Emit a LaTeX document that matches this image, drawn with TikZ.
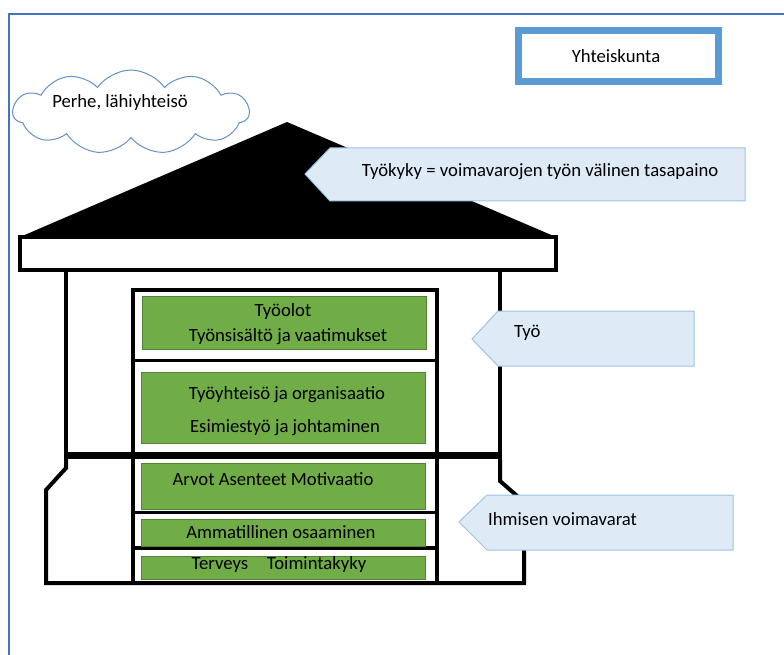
\documentclass[tikz,border=0pt]{standalone}
\usepackage{fontspec}
\setmainfont{Carlito}
\usetikzlibrary{shapes.symbols}
\definecolor{framblue}{RGB}{68,114,196}
\definecolor{boxblue}{RGB}{91,155,213}
\definecolor{cloudblue}{RGB}{100,145,200}
\definecolor{leafgreen}{RGB}{112,173,71}
\definecolor{leafedge}{RGB}{84,130,53}
\definecolor{tagfill}{RGB}{222,235,247}
\definecolor{tagedge}{RGB}{157,195,230}
\begin{document}
\begin{tikzpicture}[x=1pt,y=-1pt,
    wall/.style={line width=4pt,color=black},
    thinwall/.style={line width=3pt,color=black},
    greenbox/.style={fill=leafgreen,draw=leafedge,line width=0.8pt,inner sep=0pt},
    tag/.style={fill=tagfill,draw=tagedge,line width=1pt},
    txt/.style={inner sep=0pt,text=black}]
    \useasboundingbox (0,0) rectangle (784,655);
    \draw [color=framblue,line width=1.3pt] (9,660) -- (9,14) -- (790,14);
    \begingroup
    \fontsize{18.7}{22}\selectfont
    % Yhteiskunta and cloud
    \node[draw=boxblue,line width=7pt,fill=white,minimum width=200pt,minimum height=51pt] (yhteiskunta) at (618.5,56) {};
    \node[txt] (yhteiskuntaTxt) at (616,56) {Yhteiskunta};
    \node[cloud,draw=cloudblue,line width=1pt,fill=white,cloud puffs=11,cloud puff arc=110,
        minimum width=236pt,minimum height=84pt,inner sep=0pt] (perhe) at (131,112) {};
    \node[txt] (perheTxt) at (120,103) {Perhe, lähiyhteisö};
    % roof
    \fill [color=black] (20,237) -- (287,122) -- (556,237) -- cycle;
    \draw [wall,fill=white] (20,237) rectangle (556,270);
    % walls
    \draw [wall] (66,270) -- (66,453);
    \draw [wall] (500,270) -- (500,453);
    \draw [wall,line join=miter] (66,459) -- (66,468) -- (46,490) -- (46,583) -- (524,583) -- (524,502) -- (500,481) -- (500,459);
    % column
    \draw [wall,fill=white] (133,290) rectangle (437,583);
    \draw [line width=7pt] (64,455) -- (502,455);
    \draw [thinwall] (133,360) -- (437,360);
    \draw [thinwall] (133,512) -- (437,512);
    \draw [wall] (133,548) -- (437,548);
    % green boxes
    \node[greenbox,minimum width=284pt,minimum height=53pt] (tyoolot) at (284,322.5) {};
    \node[txt] (tyoolotA) at (283,312) {Työolot};
    \node[txt] (tyoolotB) at (288,337) {Työnsisältö ja vaatimukset};
    \node[greenbox,minimum width=284pt,minimum height=71pt] (yhteiso) at (283,407.5) {};
    \node[txt] (yhteisoA) at (287,395) {Työyhteisö ja organisaatio};
    \node[txt] (yhteisoB) at (285,428) {Esimiestyö ja johtaminen};
    \node[greenbox,minimum width=284pt,minimum height=46pt] (arvot) at (283,486) {};
    \node[txt] (arvotTxt) at (273,479) {Arvot Asenteet Motivaatio};
    \node[greenbox,minimum width=284pt,minimum height=27pt] (osaaminen) at (283,532.5) {};
    \node[txt] (osaaminenTxt) at (281,532) {Ammatillinen osaaminen};
    \node[greenbox,minimum width=284pt,minimum height=23pt] (terveys) at (283,567.5) {};
    \node[txt] (terveysTxt) at (279,565) {Terveys\quad Toimintakyky};
    % callouts
    \filldraw [tag] (305,174) -- (330,148) -- (745,148) -- (745,201) -- (330,201) -- cycle;
    \node[txt] (tyokyky) at (540,172) {Työkyky = voimavarojen työn välinen tasapaino};
    \filldraw [tag] (472,339) -- (498,311) -- (694,311) -- (694,366) -- (498,366) -- cycle;
    \node[txt,anchor=west] (tyo) at (514,333) {Työ};
    \filldraw [tag] (459,522) -- (487,495) -- (733,495) -- (733,550) -- (487,550) -- cycle;
    \node[txt,anchor=west] (voimavarat) at (488,519) {Ihmisen voimavarat};
    \endgroup
\end{tikzpicture}
\end{document}
